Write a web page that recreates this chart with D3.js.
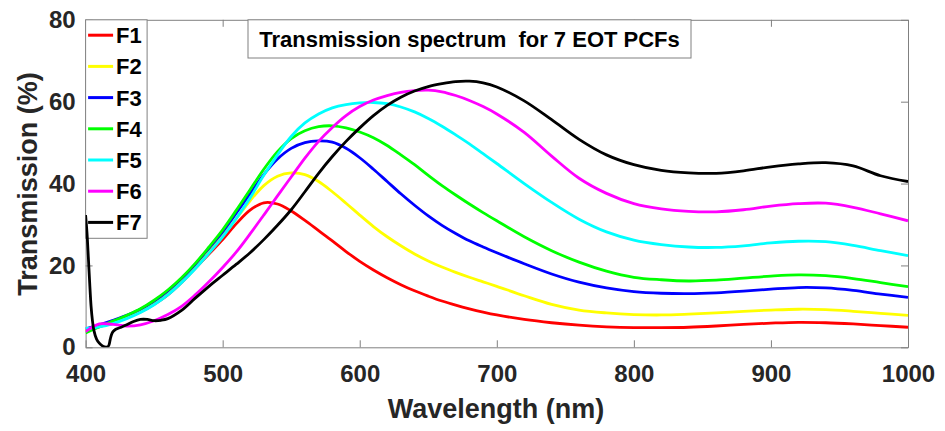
<!DOCTYPE html>
<html>
<head>
<meta charset="utf-8">
<script src="https://cdn.jsdelivr.net/npm/d3@7"></script>
<style>
  body { margin: 0; background: #fff; }
  svg { display: block; font-family: Arial, "Liberation Sans", sans-serif; }
</style>
</head>
<body>
<svg id="spectrum-plot" width="945" height="431"></svg>
<script>
// wavelength grid (nm) shared by F1..F6
const wavelengths = [400, 410, 420, 430, 440, 450, 460, 470, 480, 490, 500, 510, 520, 530, 540, 550, 560, 570, 580, 590,
  600, 610, 620, 630, 640, 650, 660, 670, 680, 690, 700, 720, 740, 760, 780, 800, 820, 840, 860, 880,
  900, 920, 940, 960, 980, 1000];

// transmission (%)
const f1 = [4.0, 5.0, 6.0, 7.2, 8.6, 10.5, 12.8, 15.8, 19.3, 22.8, 26.3, 30.2, 33.5, 35.3, 35.0, 33.3, 31.0, 28.5, 26.0, 23.4,
  21.0, 18.9, 17.0, 15.3, 13.8, 12.5, 11.3, 10.3, 9.4, 8.6, 7.9, 6.8, 6.0, 5.4, 5.0, 4.8, 4.8, 4.9, 5.2, 5.6,
  5.9, 6.1, 6.0, 5.7, 5.3, 4.9];
const f2 = [4.0, 5.0, 6.0, 7.3, 8.8, 10.8, 13.2, 16.3, 19.8, 23.5, 27.3, 31.5, 35.8, 39.5, 41.8, 42.6, 42.2, 40.5, 38.0, 35.2,
  32.3, 29.5, 27.0, 24.8, 22.8, 21.1, 19.6, 18.3, 17.1, 16.0, 14.9, 12.6, 10.5, 9.1, 8.4, 8.0, 7.9, 8.1, 8.4, 8.8,
  9.1, 9.3, 9.2, 8.8, 8.3, 7.8];
const f3 = [4.5, 5.5, 6.6, 7.8, 9.3, 11.3, 13.8, 16.8, 20.3, 24.2, 28.2, 32.8, 37.5, 42.2, 46.0, 48.6, 50.0, 50.4, 50.1, 48.6,
  46.3, 43.5, 40.5, 37.5, 34.7, 32.1, 29.8, 27.8, 26.0, 24.5, 23.1, 20.4, 17.9, 15.9, 14.5, 13.6, 13.2, 13.1, 13.3, 13.7,
  14.2, 14.6, 14.5, 13.9, 13.0, 12.2];
const f4 = [3.5, 5.0, 6.4, 7.8, 9.4, 11.5, 14.0, 17.0, 20.5, 24.5, 28.7, 33.5, 38.5, 43.5, 47.8, 51.0, 52.9, 53.9, 54.1, 53.6,
  52.6, 51.2, 49.3, 47.0, 44.6, 42.0, 39.5, 37.2, 35.0, 32.9, 30.9, 27.0, 23.6, 20.8, 18.6, 17.1, 16.5, 16.2, 16.4, 16.9,
  17.4, 17.7, 17.5, 16.8, 15.8, 14.8];
const f5 = [4.6, 5.0, 5.8, 7.0, 8.5, 10.4, 12.8, 15.8, 19.2, 23.0, 27.0, 31.5, 36.5, 42.0, 47.0, 51.5, 54.8, 57.0, 58.5, 59.3,
  59.7, 59.8, 59.5, 58.7, 57.5, 55.9, 54.0, 51.9, 49.7, 47.3, 44.9, 40.0, 35.4, 31.3, 28.2, 26.2, 25.1, 24.5, 24.4, 24.8,
  25.5, 25.9, 25.8, 24.9, 23.6, 22.4];
const f6 = [3.8, 5.7, 5.6, 5.2, 5.5, 6.5, 8.0, 10.0, 12.8, 16.0, 19.5, 23.3, 27.7, 32.3, 37.0, 41.6, 46.2, 50.3, 53.7, 56.6,
  58.8, 60.4, 61.5, 62.3, 62.7, 62.8, 62.4, 61.5, 60.3, 58.8, 57.0, 52.5, 46.7, 41.3, 37.6, 35.1, 33.8, 33.2, 33.1, 33.6,
  34.5, 35.1, 35.2, 34.2, 32.6, 30.9];

// F7 has a sharp dip near 415 nm, so it gets its own finer grid
const f7Wavelengths = [400, 401, 402, 403, 404, 405, 406, 408, 410, 412, 414, 416, 417, 418, 419, 420, 422, 426, 430, 435,
  440, 445, 450, 455, 460, 470, 480, 490, 500, 510, 520, 530, 540, 550, 560, 570, 580, 590, 600, 610,
  620, 630, 640, 650, 660, 670, 680, 690, 700, 720, 740, 760, 780, 800, 820, 840, 860, 880, 900, 920,
  940, 960, 980, 1000];
const f7 = [32.3, 28.0, 22.0, 15.6, 10.0, 6.5, 4.2, 2.0, 1.0, 0.4, 0.1, 0.1, 0.5, 2.0, 3.2, 3.8, 4.4, 4.9, 5.5, 6.3,
  6.8, 6.8, 6.5, 6.6, 7.0, 9.0, 12.0, 14.9, 17.6, 20.3, 23.1, 26.3, 29.8, 33.6, 38.0, 42.5, 46.6, 50.3, 53.6, 56.6,
  59.1, 61.1, 62.6, 63.7, 64.4, 64.9, 65.0, 64.6, 63.6, 60.2, 55.6, 50.8, 47.0, 44.6, 43.2, 42.6, 42.5, 43.1, 44.1, 44.8,
  45.1, 44.3, 41.9, 40.5];

const seriesNames = ["F1", "F2", "F3", "F4", "F5", "F6", "F7"];
const seriesColors = ["#ff0000", "#ffff00", "#0000ff", "#00ff00", "#00ffff", "#ff00ff", "#000000"];
const xTicks = [400, 500, 600, 700, 800, 900, 1000];
const yTicks = [0, 20, 40, 60, 80];
const titleText = "Transmission spectrum  for 7 EOT PCFs";

const series = [
  { name: seriesNames[0], color: seriesColors[0], xs: wavelengths, ys: f1 },
  { name: seriesNames[1], color: seriesColors[1], xs: wavelengths, ys: f2 },
  { name: seriesNames[2], color: seriesColors[2], xs: wavelengths, ys: f3 },
  { name: seriesNames[3], color: seriesColors[3], xs: wavelengths, ys: f4 },
  { name: seriesNames[4], color: seriesColors[4], xs: wavelengths, ys: f5 },
  { name: seriesNames[5], color: seriesColors[5], xs: wavelengths, ys: f6 },
  { name: seriesNames[6], color: seriesColors[6], xs: f7Wavelengths, ys: f7 },
].map((s) => ({ ...s, points: s.xs.map((x, i) => [x, s.ys[i]]) }));

// svg, plot size, margins
const svg = d3.select("#spectrum-plot");
const margin = { top: 19.8, right: 37, bottom: 83.7, left: 85.6 };
const width = +svg.attr("width") - margin.left - margin.right;
const height = +svg.attr("height") - margin.top - margin.bottom;
const axisColor = "#808080";
const textColor = "#262626";

const chart = svg
  .append("g")
  .attr("transform", `translate(${margin.left},${margin.top})`);

// scales
const xScale = d3.scaleLinear().domain([400, 1000]).range([0, width]);
const yScale = d3.scaleLinear().domain([0, 80]).range([height, 0]);

// axes, matlab style: ticks pointing in, box all round
const styleAxis = (g) => {
  g.select(".domain").attr("stroke", axisColor).attr("fill", "none");
  g.selectAll(".tick line").attr("stroke", axisColor);
  g.selectAll(".tick text")
    .attr("fill", textColor)
    .style("font-size", "24px")
    .style("font-weight", "bold");
};

chart
  .append("g")
  .attr("transform", `translate(0,${height})`)
  .call(
    d3.axisBottom(xScale).tickValues(xTicks).tickFormat(d3.format("d"))
      .tickSizeInner(-7).tickSizeOuter(0).tickPadding(18)
  )
  .call(styleAxis);

chart
  .append("g")
  .call(
    d3.axisLeft(yScale).tickValues(yTicks).tickFormat(d3.format("d"))
      .tickSizeInner(-7).tickSizeOuter(0).tickPadding(10)
  )
  .call(styleAxis);

chart
  .append("g")
  .call(d3.axisTop(xScale).tickValues(xTicks).tickSizeInner(-7).tickSizeOuter(0).tickFormat(""))
  .call(styleAxis);

chart
  .append("g")
  .attr("transform", `translate(${width},0)`)
  .call(d3.axisRight(yScale).tickValues(yTicks).tickSizeInner(-7).tickSizeOuter(0).tickFormat(""))
  .call(styleAxis);

// legend box (lines are drawn after it, as in the original)
const legend = chart.append("g").attr("class", "legend");
const legendSpacing = 31.2;

legend
  .append("rect")
  .attr("x", 0)
  .attr("y", 0)
  .attr("width", 61.5)
  .attr("height", 218.5)
  .attr("fill", "#fff")
  .attr("stroke", axisColor);

const legendItems = legend
  .selectAll(".legend-item")
  .data(series)
  .enter()
  .append("g")
  .attr("class", "legend-item")
  .attr("transform", (d, i) => `translate(0,${15.4 + i * legendSpacing})`);

legendItems
  .append("line")
  .attr("x1", 2.5)
  .attr("x2", 27.5)
  .attr("stroke", (d) => d.color)
  .attr("stroke-width", 3);

legendItems
  .append("text")
  .attr("x", 30.5)
  .attr("dy", "0.36em")
  .attr("fill", "#000")
  .style("font-size", "22px")
  .style("font-weight", "bold")
  .text((d) => d.name);

// title box
const titleGroup = chart.append("g").attr("transform", `translate(${248 - margin.left},0)`);
titleGroup
  .append("rect")
  .attr("width", 443)
  .attr("height", 38.2)
  .attr("fill", "#fff")
  .attr("stroke", axisColor);
titleGroup
  .append("text")
  .attr("x", 221.5)
  .attr("y", 19.4)
  .attr("dy", "0.36em")
  .attr("text-anchor", "middle")
  .attr("fill", "#000")
  .style("font-size", "22px")
  .style("font-weight", "bold")
  .style("white-space", "pre")
  .text(titleText);

// spectra
chart
  .append("clipPath")
  .attr("id", "plot-clip")
  .append("rect")
  .attr("width", width)
  .attr("height", height);

const line = d3
  .line()
  .x((d) => xScale(d[0]))
  .y((d) => yScale(d[1]))
  .curve(d3.curveCatmullRom.alpha(0.5));

chart
  .append("g")
  .attr("clip-path", "url(#plot-clip)")
  .selectAll(".spectrum")
  .data(series)
  .enter()
  .append("path")
  .attr("class", "spectrum")
  .attr("d", (d) => line(d.points))
  .attr("fill", "none")
  .attr("stroke", (d) => d.color)
  .attr("stroke-width", 2.8)
  .attr("stroke-linejoin", "round");

// axis labels
svg
  .append("text")
  .attr("x", 496)
  .attr("y", 418)
  .attr("text-anchor", "middle")
  .attr("fill", textColor)
  .style("font-size", "27px")
  .style("font-weight", "bold")
  .text("Wavelength (nm)");

svg
  .append("text")
  .attr("transform", "translate(37,184) rotate(-90)")
  .attr("text-anchor", "middle")
  .attr("fill", textColor)
  .style("font-size", "27px")
  .style("font-weight", "bold")
  .text("Transmission (%)");
</script>
</body>
</html>
